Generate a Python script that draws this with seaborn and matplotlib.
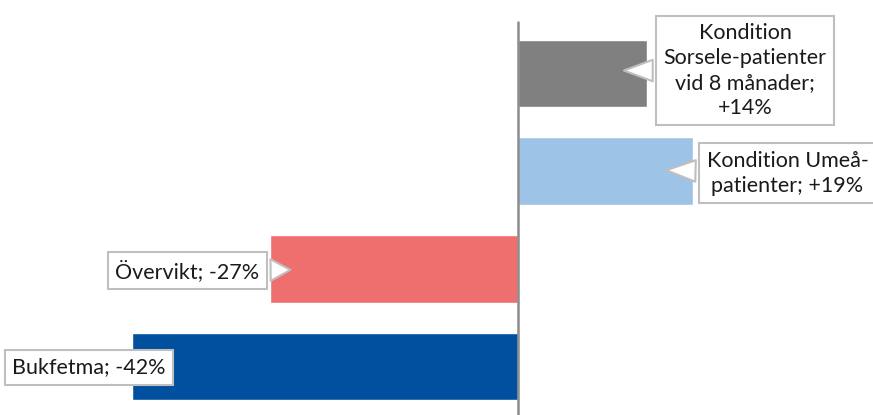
import matplotlib
matplotlib.use("Agg")
import matplotlib.pyplot as plt
import seaborn as sns
import pandas as pd

# Data
categories = ["Kondition Sorsele", "Kondition Umeå", "Övervikt", "Bukfetma"]
changes = [14, 19, -27, -42]
colors = ["#808080", "#9DC3E6", "#EF6E6E", "#00509F"]
callout_texts = [
    "Kondition\nSorsele-patienter\nvid 8 månader;\n+14%",
    "Kondition Umeå-\npatienter; +19%",
    "Övervikt; -27%",
    "Bukfetma; -42%",
]

df = pd.DataFrame({"category": categories, "change": changes})

sns.set_style("white")
plt.rcParams["font.family"] = ["Lato", "DejaVu Sans"]

fig = plt.figure(figsize=(8.73, 4.15), dpi=100)
ax = fig.add_axes([0, 0, 1, 1])

sns.barplot(data=df, x="change", y="category", hue="category", palette=colors,
            legend=False, width=0.69, orient="h", ax=ax, saturation=1)

ax.set_xlim(-56.4, 38.6)
ax.set_ylim(3.496, -0.752)
for s in ax.spines.values():
    s.set_visible(False)
ax.set_xticks([])
ax.set_yticks([])
ax.set_xlabel("")
ax.set_ylabel("")

# vertical zero axis
ax.axvline(0, ymin=0, ymax=0.947, color="#8C8C8C", lw=1.8)

# callouts: (box x, box y, tip x, tip y)
box_pos = [(24.7, -0.03), (29.3, 1.02), (-36.0, 2.02), (-46.7, 3.01)]
tip_pos = [(11.2, -0.03), (15.8, 0.99), (-24.5, 2.01), None]

box = dict(boxstyle="square,pad=0.35", fc="white", ec="#BFBFBF", lw=1.5)
fs = 15.5
for txt, (bx, by), tip in zip(callout_texts, box_pos, tip_pos):
    if tip is None:
        ax.text(bx, by, txt, ha="center", va="center", fontsize=fs,
                color="#1A1A1A", bbox=box, linespacing=1.3)
    else:
        ax.annotate(txt, xy=tip, xytext=(bx, by), ha="center", va="center",
                    fontsize=fs, color="#1A1A1A", bbox=box, linespacing=1.3,
                    arrowprops=dict(arrowstyle="wedge,tail_width=1.0,shrink_factor=0.5",
                                    fc="white", ec="#BFBFBF", lw=1.5))

fig.savefig("out.png", dpi=100)
